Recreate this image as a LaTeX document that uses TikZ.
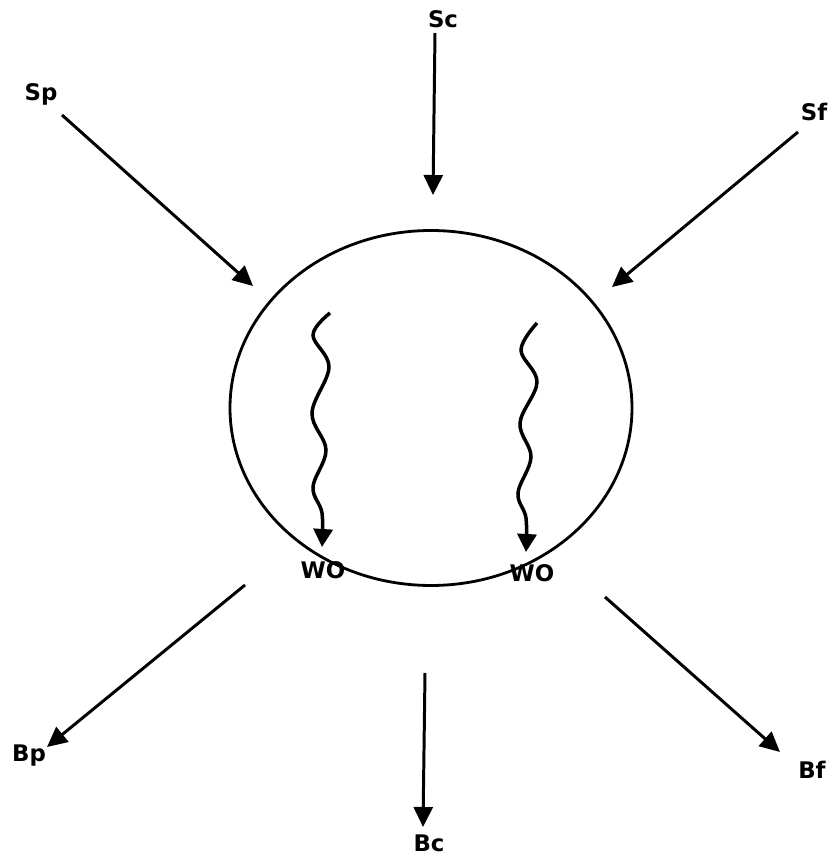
\documentclass[tikz,border=0pt]{standalone}
\usepackage{fontspec}
\usepackage{tikz}
\usetikzlibrary{arrows.meta, positioning, calc}
\newfontfamily\lblfont{DejaVu Sans}[BoldFont={DejaVu Sans Bold}]

\begin{document}
\begin{tikzpicture}[
  lbl/.style={font=\lblfont\bfseries\fontsize{13}{15}\selectfont, inner sep=1pt},
  flux/.style={-{Triangle[length=4mm, width=3.8mm]}, line width=1.7pt},
  wavy/.style={-{Triangle[length=3.6mm, width=3.8mm]}, line width=2pt}
]
\useasboundingbox (0,0) rectangle (16.72,17.16);

% Cell
\draw[line width=1.6pt] (8.62,9.00) ellipse [x radius=4.02, y radius=3.55];

% Labels
\node[lbl] (Sp) at (0.82,15.28) {Sp};
\node[lbl] (Sc) at (8.86,16.78) {Sc};
\node[lbl] (Sf) at (16.28,14.92) {Sf};
\node[lbl] (Bp) at (0.58,2.04) {Bp};
\node[lbl] (Bc) at (8.58,0.30) {Bc};
\node[lbl] (Bf) at (16.24,1.76) {Bf};
\node[lbl] (WOa) at (6.46,5.76) {WO};
\node[lbl] (WOb) at (10.64,5.70) {WO};

% Arrow ends
\coordinate (spS) at (1.24,14.86);  \coordinate (spE) at (5.06,11.44);
\coordinate (scS) at (8.70,16.50);  \coordinate (scE) at (8.66,13.26);
\coordinate (sfS) at (15.96,14.52); \coordinate (sfE) at (12.24,11.42);
\coordinate (bpS) at (4.90,5.46);   \coordinate (bpE) at (0.94,2.22);
\coordinate (bcS) at (8.50,3.70);   \coordinate (bcE) at (8.46,0.62);
\coordinate (bfS) at (12.10,5.22);  \coordinate (bfE) at (15.60,2.12);

% Inputs and outputs
\foreach \a in {sp, sc, sf, bp, bc, bf}{
  \draw[flux] (\a S) -- (\a E);
}

% Wavy arrows to WO
\draw[wavy] plot[smooth, tension=0.6] coordinates {
  (6.60,10.90) (6.26,10.46) (6.58,9.82) (6.24,8.90) (6.52,8.16)
  (6.26,7.42) (6.44,6.90) (6.44,6.22)};
\draw[wavy] plot[smooth, tension=0.6] coordinates {
  (10.74,10.70) (10.42,10.16) (10.74,9.52) (10.40,8.70) (10.62,8.02)
  (10.36,7.30) (10.52,6.80) (10.52,6.12)};

\end{tikzpicture}
\end{document}
